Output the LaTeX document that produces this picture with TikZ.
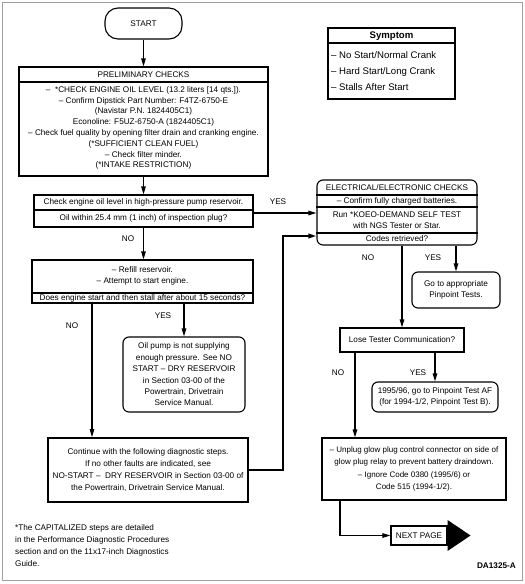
\documentclass[tikz,border=0pt]{standalone}
\usepackage{fontspec}
\setmainfont{Liberation Sans}
\usepackage{tikz}
\usetikzlibrary{arrows.meta}

\newcommand{\chartfont}{\fontsize{8.2}{10.8}\selectfont}
\newcommand{\symfont}{\fontsize{9.6}{16}\selectfont}

\tikzset{
  box/.style={draw, line width=1.1pt, inner sep=0pt},
  rbox/.style={box, rounded corners=6pt},
  txt/.style={inner sep=0pt, align=center, font=\chartfont},
  lbl/.style={inner sep=0pt, font=\chartfont},
  flow/.style={line width=1.1pt},
  arr/.style={flow, -{Triangle[length=8pt,width=4.5pt]}},
}

\begin{document}
\begin{tikzpicture}[x=1pt,y=-1pt]
    \useasboundingbox (0,0) rectangle (525,584);
    \draw[gray!75, line width=0.9pt] (2,2) rectangle (522,580);

    % left column
    \node[box, rounded corners=13pt, minimum width=77pt, minimum height=31pt, font=\chartfont] (start) at (143.5,23.5) {START};
    \node[box, minimum width=249pt, minimum height=109pt] (prelim) at (143.5,121.5) {};
    \draw[flow] (prelim.west |- 0,82) -- (prelim.east |- 0,82);
    \node[txt] (prelimhead) at (143.5,75) {PRELIMINARY CHECKS};
    \node[txt] (prelimtext) at (143.5,128) {–\ \ *CHECK ENGINE OIL LEVEL (13.2 liters [14 qts.]).\\
        – Confirm Dipstick Part Number: F4TZ-6750-E\\(Navistar P.N. 1824405C1)\\
        Econoline: F5UZ-6750-A (1824405C1)\\
        – Check fuel quality by opening filter drain and cranking engine.\\
        (*SUFFICIENT CLEAN FUEL)\\– Check filter minder.\\(*INTAKE RESTRICTION)};

    \node[box, minimum width=219pt, minimum height=32pt] (chk) at (143.5,211) {};
    \draw[flow] (chk.west |- 0,210) -- (chk.east |- 0,210);
    \node[txt] (chktop) at (143.5,202) {Check engine oil level in high-pressure pump reservoir.};
    \node[txt] (chkq) at (143.5,218.5) {Oil within 25.4 mm (1 inch) of inspection plug?};

    \node[box, minimum width=221pt, minimum height=43pt] (refill) at (142.5,281.5) {};
    \draw[flow] (refill.west |- 0,293) -- (refill.east |- 0,293);
    \node[txt] (refilltext) at (142.5,276) {– Refill reservoir.\\– Attempt to start engine.};
    \node[txt] (refillq) at (142.5,298) {Does engine start and then stall after about 15 seconds?};

    \node[rbox, txt, draw, line width=1.1pt, minimum width=122pt, minimum height=75pt,
          font=\fontsize{8.2}{11.4}\selectfont] (pump) at (184,374.5)
        {Oil pump is not supplying\\enough pressure. See NO\\START – DRY RESERVOIR\\in Section 03-00 of the\\Powertrain, Drivetrain\\Service Manual.};

    \node[box, txt, draw, line width=1.8pt, minimum width=200pt, minimum height=64pt,
          font=\fontsize{8.2}{12}\selectfont] (cont) at (148,470)
        {Continue with the following diagnostic steps.\\If no other faults are indicated, see\\
         NO-START –\ \ DRY RESERVOIR in Section 03-00 of\\the Powertrain, Drivetrain Service Manual.};

    \node[anchor=west, align=left, inner sep=0pt, font=\fontsize{8.2}{12}\selectfont] (note) at (15,546)
        {*The CAPITALIZED steps are detailed\\in the Performance Diagnostic Procedures\\
         section and on the 11x17-inch Diagnostics\\Guide.};

    % right column
    \node[box, minimum width=127pt, minimum height=71pt] (symptom) at (391.5,63.5) {};
    \draw[flow] (symptom.west |- 0,43) -- (symptom.east |- 0,43);
    \node[lbl, font=\symfont\bfseries] (symhead) at (391.5,36) {Symptom};
    \node[anchor=west, align=left, inner sep=0pt, font=\symfont] (symlist) at (331,71)
        {– No Start/Normal Crank\\– Hard Start/Long Crank\\– Stalls After Start};

    \node[rbox, minimum width=160pt, minimum height=65pt] (elec) at (397,212.5) {};
    \draw[flow] (elec.west |- 0,195) -- (elec.east |- 0,195);
    \draw[flow] (elec.west |- 0,207) -- (elec.east |- 0,207);
    \draw[flow] (elec.west |- 0,233) -- (elec.east |- 0,233);
    \node[txt] (elechead) at (397,188) {ELECTRICAL/ELECTRONIC CHECKS};
    \node[txt] (elecbat) at (397,201) {– Confirm fully charged batteries.};
    \node[txt] (elecrun) at (397,220) {Run *KOEO-DEMAND SELF TEST\\with NGS Tester or Star.};
    \node[txt] (elecq) at (397,239) {Codes retrieved?};

    \node[rbox, txt, draw, line width=1.1pt, minimum width=88pt, minimum height=36pt] (goto) at (456,290)
        {Go to appropriate\\Pinpoint Tests.};
    \node[box, txt, draw, line width=1.1pt, minimum width=124pt, minimum height=24pt] (lose) at (402,340)
        {Lose Tester Communication?};
    \node[rbox, txt, draw, line width=1.1pt, minimum width=126pt, minimum height=30pt] (pinaf) at (435,397)
        {1995/96, go to Pinpoint Test AF\\(for 1994-1/2, Pinpoint Test B).};
    \node[box, txt, draw, line width=1.1pt, minimum width=184pt, minimum height=62pt,
          font=\fontsize{8}{12.5}\selectfont] (unplug) at (414,469)
        {– Unplug glow plug control connector on side of\\glow plug relay to prevent battery draindown.\\
         – Ignore Code 0380 (1995/6) or\\Code 515 (1994-1/2).};
    \node[box, txt, draw, line width=1.1pt, minimum width=56pt, minimum height=19pt] (next) at (419,535.5)
        {NEXT PAGE};
    \fill (next.east) +(0,-15.5) -- +(23,0) -- +(0,15.5) -- cycle;
    \node[anchor=east, inner sep=0pt, font=\chartfont\bfseries] (code) at (516,566) {DA1325-A};

    % lanes
    \coordinate (laneA) at (92,0);
    \coordinate (laneB) at (283,0);
    \coordinate (laneC) at (355,0);
    \coordinate (laneD) at (340,0);

    % connectors
    \draw[arr] (start.south) -- (start.south |- prelim.north);
    \draw[arr] (prelim.south) -- (chk.north);
    \draw[arr] (chk.south) -- (chk.south |- refill.north);
    \node[lbl] (chkno) at (128,239) {NO};
    \draw[arr] (chk.east |- 0,213) -- (elec.west |- 0,213);
    \node[lbl] (chkyes) at (278,202) {YES};
    \draw[arr] (pump.north |- refill.south) -- (pump.north);
    \node[lbl] (refyes) at (163,316) {YES};
    \draw[arr] (refill.south -| laneA) -- (cont.north -| laneA);
    \node[lbl] (refno) at (72,326) {NO};
    \draw[arr, line width=1.8pt] (cont.east) -- (cont.east -| laneB) -- (laneB |- 0,236) -- (elec.west |- 0,236);

    \draw[arr] (elec.south -| lose.north) -- (lose.north);
    \node[lbl] (elecno) at (368,258) {NO};
    \draw[arr] (goto.north |- elec.south) -- (goto.north);
    \node[lbl] (elecyes) at (433,258) {YES};
    \draw[arr] (pinaf.north |- lose.south) -- (pinaf.north);
    \node[lbl] (loseyes) at (418,373) {YES};
    \draw[arr] (lose.south -| laneC) -- (unplug.north -| laneC);
    \node[lbl] (loseno) at (338,373) {NO};
    \draw[arr] (unplug.south -| laneD) -- (laneD |- next.west) -- (next.west);
\end{tikzpicture}
\end{document}
